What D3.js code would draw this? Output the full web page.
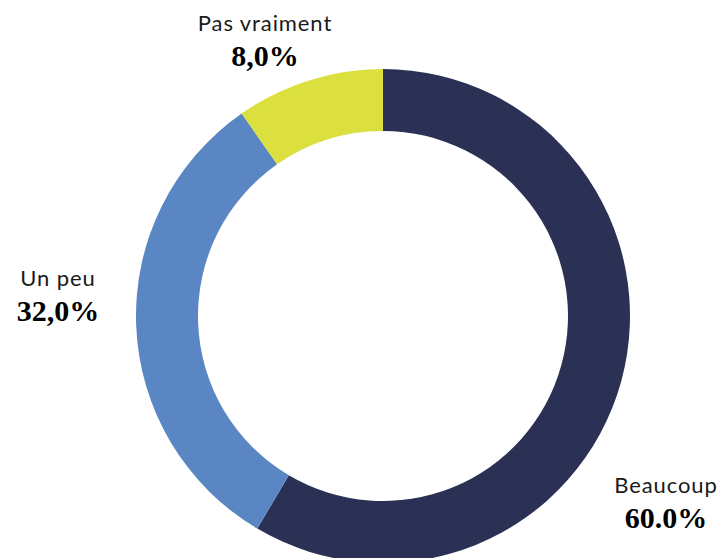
<!DOCTYPE html>
<html>
<head>
<meta charset="utf-8">
<script src="https://cdn.jsdelivr.net/npm/d3@7"></script>
<style>
  html, body { margin: 0; padding: 0; background: #ffffff; }
  svg { display: block; }
</style>
</head>
<body>
<svg id="chart" width="726" height="558"></svg>
<script>
// ---- data ----
const categories = ["Beaucoup", "Un peu", "Pas vraiment"];
const values = [58.5, 31.8, 9.7];           // slice sizes as drawn
const valueLabels = ["60.0%", "32,0%", "8,0%"]; // printed labels
const colors = ["#2b3055", "#5b86c4", "#dbe03f"];

// ---- layout ----
const width = 726, height = 558;
const cx = 383, cy = 316;
const outerR = 247, innerR = 185;
const labelPos = {
  "Beaucoup":     { x: 666, y: 493 },
  "Un peu":       { x: 58,  y: 286 },
  "Pas vraiment": { x: 265, y: 31 }
};

const svg = d3.select("#chart");
const g = svg.append("g").attr("transform", `translate(${cx},${cy})`);

const data = categories.map((c, i) => ({ cat: c, value: values[i], label: valueLabels[i], color: colors[i] }));

const pie = d3.pie().value(d => d.value).sort(null);
const arc = d3.arc().innerRadius(innerR).outerRadius(outerR);

g.selectAll("path.slice")
  .data(pie(data))
  .join("path")
  .attr("class", "slice")
  .attr("d", arc)
  .attr("fill", d => d.data.color);

const labels = svg.selectAll("g.label")
  .data(data)
  .join("g")
  .attr("class", "label")
  .attr("transform", d => `translate(${labelPos[d.cat].x},${labelPos[d.cat].y})`);

labels.append("text")
  .attr("text-anchor", "middle")
  .attr("font-family", "Lato, 'Open Sans', sans-serif")
  .attr("font-weight", 400)
  .attr("font-size", 22)
  .attr("letter-spacing", "0.9px")
  .attr("fill", "#1a1a1a")
  .text(d => d.cat);

labels.append("text")
  .attr("text-anchor", "middle")
  .attr("y", 35)
  .attr("font-family", "'Liberation Serif', 'DejaVu Serif', serif")
  .attr("font-weight", "bold")
  .attr("font-size", 30)
  .attr("fill", "#000")
  .text(d => d.label);
</script>
</body>
</html>
